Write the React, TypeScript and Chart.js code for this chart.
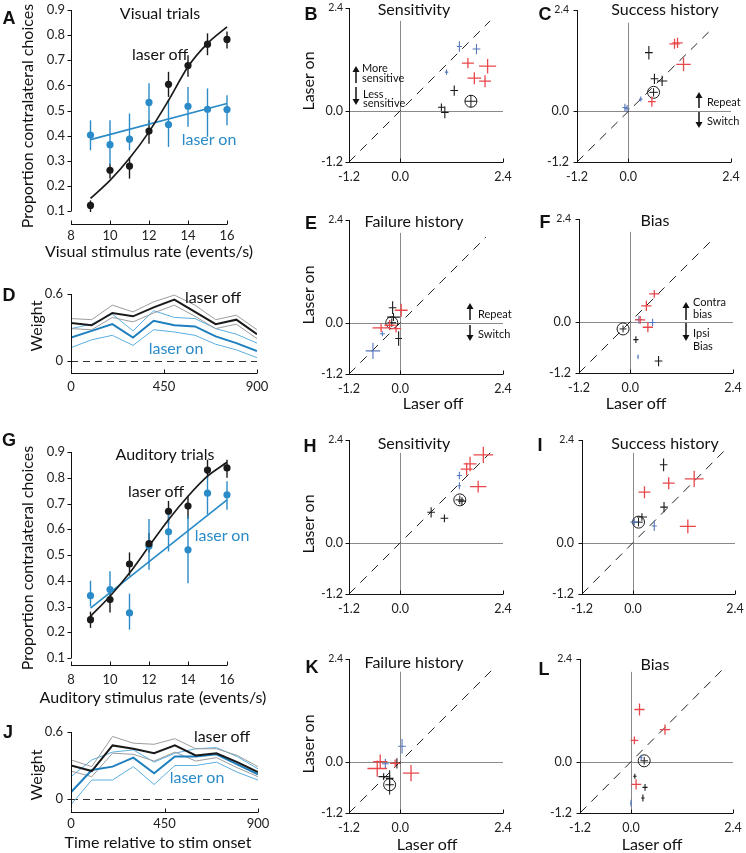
import React, { useEffect, useRef } from "react";
import { Chart, registerables } from "chart.js";
Chart.register(...registerables);

const FONT = "Lato, 'Noto Sans', sans-serif";
const INK = "#1a1a1a";
const BLUE_A = "#2a8bc8";
const BLUE_T = "#1e7fbe";
const BLUE_L = "#5aaee0";
const GRAY_L = "#9c9c9c";
const RED = "#e8484c";
const XBLUE = "#5577bb";
const REFGRAY = "#8a8a8a";

// ---------- Panel A: visual trials ----------
const visRates = [9, 10, 11, 12, 13, 14, 15, 16];
const visOff = [0.122, 0.262, 0.279, 0.418, 0.604, 0.679, 0.764, 0.783];
const visOffLo = [0.096, 0.229, 0.229, 0.368, 0.554, 0.634, 0.72, 0.747];
const visOffHi = [0.142, 0.289, 0.315, 0.461, 0.654, 0.72, 0.807, 0.814];
const visOn = [0.402, 0.364, 0.386, 0.532, 0.444, 0.517, 0.505, 0.504];
const visOnLo = [0.342, 0.282, 0.342, 0.441, 0.355, 0.435, 0.395, 0.441];
const visOnHi = [0.461, 0.461, 0.488, 0.608, 0.541, 0.594, 0.588, 0.561];
const visOffFit = [0.15, 0.222, 0.31, 0.415, 0.54, 0.674, 0.767, 0.833];
const visOnFitX = [9, 16];
const visOnFitY = [0.384, 0.528];

// ---------- Panel G: auditory trials ----------
const audRates = [9, 10, 11, 12, 13, 14, 15, 16];
const audOff = [0.249, 0.327, 0.465, 0.544, 0.67, 0.69, 0.83, 0.838];
const audOffLo = [0.217, 0.277, 0.42, 0.51, 0.62, 0.64, 0.80, 0.80];
const audOffHi = [0.28, 0.366, 0.51, 0.585, 0.71, 0.73, 0.87, 0.87];
const audOn = [0.342, 0.366, 0.275, 0.535, 0.59, 0.52, 0.74, 0.734];
const audOnLo = [0.30, 0.314, 0.21, 0.443, 0.514, 0.39, 0.657, 0.676];
const audOnHi = [0.40, 0.437, 0.35, 0.64, 0.676, 0.65, 0.806, 0.786];
const audOffFit = [0.262, 0.34, 0.43, 0.534, 0.637, 0.728, 0.806, 0.86];
const audOnFitX = [9, 16];
const audOnFitY = [0.294, 0.714];

// ---------- Panels D, J: weights over time ----------
const timeBins = [0, 100, 200, 300, 400, 500, 600, 700, 800, 900];
const visWOff = [0.34, 0.32, 0.43, 0.40, 0.48, 0.55, 0.44, 0.33, 0.37, 0.24];
const visWOffHi = [0.38, 0.37, 0.50, 0.44, 0.53, 0.59, 0.50, 0.37, 0.41, 0.28];
const visWOffLo = [0.29, 0.28, 0.39, 0.35, 0.43, 0.50, 0.40, 0.29, 0.33, 0.20];
const visWOn = [0.21, 0.27, 0.33, 0.21, 0.36, 0.32, 0.31, 0.22, 0.16, 0.09];
const visWOnHi = [0.29, 0.33, 0.42, 0.27, 0.45, 0.39, 0.38, 0.29, 0.24, 0.16];
const visWOnLo = [0.12, 0.19, 0.23, 0.14, 0.28, 0.26, 0.23, 0.15, 0.10, 0.03];

const audWOff = [0.30, 0.25, 0.48, 0.45, 0.41, 0.48, 0.39, 0.41, 0.33, 0.24];
const audWOffHi = [0.35, 0.29, 0.56, 0.50, 0.49, 0.54, 0.45, 0.45, 0.39, 0.29];
const audWOffLo = [0.25, 0.20, 0.41, 0.40, 0.34, 0.42, 0.34, 0.37, 0.28, 0.20];
const audWOn = [0.06, 0.26, 0.29, 0.37, 0.23, 0.38, 0.38, 0.40, 0.31, 0.22];
const audWOnHi = [0.20, 0.35, 0.42, 0.44, 0.33, 0.41, 0.45, 0.46, 0.38, 0.27];
const audWOnLo = [-0.05, 0.17, 0.17, 0.29, 0.13, 0.30, 0.30, 0.33, 0.24, 0.17];

// ---------- Scatter panels: [laserOff, laserOn, xErr, yErr] ----------
const sensVisRed = [[1.58, 1.11, 0.14, 0.12], [2.04, 1.04, 0.2, 0.17], [1.73, 0.76, 0.16, 0.14], [1.98, 0.69, 0.14, 0.14]];
const sensVisBlue = [[1.38, 1.5, 0.06, 0.12], [1.78, 1.44, 0.09, 0.12], [1.08, 0.9, 0.04, 0.06]];
const sensVisBlack = [[1.26, 0.47, 0.09, 0.12], [0.96, 0.08, 0.08, 0.09], [1.04, -0.04, 0.09, 0.14]];
const sensVisMean = [[1.65, 0.22, 0.14, 0.14]];

const succVisRed = [[1.08, 1.6, 0.12, 0.12], [1.15, 1.62, 0.12, 0.12], [1.29, 1.11, 0.17, 0.16], [0.55, 0.23, 0.09, 0.12]];
const succVisBlue = [[-0.08, 0.09, 0.06, 0.09], [-0.03, 0.06, 0.06, 0.09], [0.29, 0.29, 0.04, 0.06]];
const succVisBlack = [[0.48, 1.39, 0.09, 0.16], [0.61, 0.77, 0.09, 0.12], [0.79, 0.72, 0.12, 0.12]];
const succVisMean = [[0.59, 0.45, 0.1, 0.1]];

const failVisRed = [[-0.45, -0.12, 0.2, 0.1], [0.02, 0.29, 0.15, 0.15], [-0.1, -0.14, 0.12, 0.09], [-0.25, -0.06, 0.12, 0.12]];
const failVisBlue = [[-0.64, -0.66, 0.17, 0.19], [-0.42, -0.26, 0.06, 0.06]];
const failVisBlack = [[-0.18, 0.35, 0.09, 0.15], [-0.16, 0.13, 0.15, 0.09], [-0.04, -0.37, 0.08, 0.17]];
const failVisMean = [[-0.2, 0.0, 0.1, 0.1]];

const biasVisRed = [[0.56, 0.65, 0.12, 0.09], [0.375, 0.37, 0.12, 0.12], [0.23, 0.04, 0.12, 0.09], [0.41, -0.13, 0.12, 0.12]];
const biasVisBlue = [[0.2, 0.05, 0.08, 0.09], [0.52, -0.02, 0.09, 0.09], [0.18, -0.82, 0.02, 0.05]];
const biasVisBlack = [[0.13, -0.42, 0.06, 0.08], [0.66, -0.92, 0.09, 0.12]];
const biasVisMean = [[-0.17, -0.17, 0.08, 0.08]];

const sensAudRed = [[1.94, 2.05, 0.23, 0.19], [1.63, 1.84, 0.15, 0.17], [1.55, 1.72, 0.14, 0.15], [1.82, 1.31, 0.19, 0.14]];
const sensAudBlue = [[1.38, 1.57, 0.06, 0.09], [1.38, 1.33, 0.04, 0.08]];
const sensAudBlack = [[1.44, 0.97, 0.09, 0.09], [0.72, 0.71, 0.09, 0.12], [1.03, 0.57, 0.09, 0.09]];
const sensAudMean = [[1.39, 1.0, 0.1, 0.1]];

const succAudRed = [[0.27, 1.18, 0.14, 0.14], [0.84, 1.39, 0.14, 0.14], [1.44, 1.49, 0.22, 0.19], [1.29, 0.38, 0.19, 0.16]];
const succAudBlue = [[0.5, 0.39, 0.06, 0.12], [0.03, 0.48, 0.09, 0.08]];
const succAudBlack = [[0.72, 1.82, 0.09, 0.15], [0.73, 0.83, 0.09, 0.12], [0.21, 0.6, 0.12, 0.09]];
const succAudMean = [[0.13, 0.48, 0.1, 0.1]];

const failAudRed = [[-0.54, -0.16, 0.23, 0.19], [-0.47, 0.0, 0.17, 0.17], [0.25, -0.27, 0.19, 0.19], [-0.12, -0.04, 0.12, 0.09]];
const failAudBlue = [[0.04, 0.36, 0.09, 0.17], [-0.35, -0.05, 0.08, 0.12]];
const failAudBlack = [[-0.08, -0.04, 0.09, 0.12], [-0.39, -0.35, 0.12, 0.08], [-0.25, -0.39, 0.09, 0.19]];
const failAudMean = [[-0.25, -0.54, 0.1, 0.23]];

const biasAudRed = [[0.2, 1.22, 0.12, 0.14], [0.8, 0.75, 0.12, 0.12], [0.08, 0.5, 0.09, 0.09], [0.12, -0.53, 0.12, 0.12]];
const biasAudBlue = [[0.0, -0.97, 0.02, 0.08], [0.24, 0.1, 0.03, 0.06]];
const biasAudBlack = [[0.09, -0.34, 0.04, 0.06], [0.33, -0.6, 0.06, 0.08], [0.28, -0.85, 0.04, 0.08]];
const biasAudMean = [[0.31, 0.02, 0.09, 0.09]];

const scatterTicks = [-1.2, 0, 2.4];
const scatterTickLabels = ["-1.2", "0.0", "2.4"];
const psychYTicks = [0.1, 0.2, 0.3, 0.4, 0.5, 0.6, 0.7, 0.8, 0.9];
const psychYLabels = ["0.1", "0.2", "0.3", "0.4", "0.5", "0.6", "0.7", "0.8", "0.9"];
const psychXTicks = [8, 10, 12, 14, 16];
const psychXLabels = ["8", "10", "12", "14", "16"];
const weightYTicks = [0, 0.6];
const weightYLabels = ["0", "0.6"];
const weightXTicks = [0, 450, 900];
const weightXLabels = ["0", "450", "900"];

// ---------- layout helpers ----------
const ML = 44, MR = 16, MT = 14, MB = 28, YW = 40, XH = 26;
type Area = { L: number; T: number; R: number; B: number };

const pts = (xs: number[], ys: number[]) => xs.map((x, i) => ({ x, y: ys[i] }));

function scale(min: number, max: number, ticks: number[], horiz: boolean) {
  return {
    type: "linear",
    min,
    max,
    afterFit: (s: any) => {
      if (horiz) s.height = XH;
      else s.width = YW;
    },
    afterBuildTicks: (s: any) => {
      s.ticks = ticks.map((v) => ({ value: v }));
    },
    grid: { display: false, drawTicks: false },
    border: { display: false },
    ticks: { display: false, autoSkip: false, maxRotation: 0 },
  };
}

// axis lines, tick marks and tick labels, positioned from the chart's own scales
const framePlugin = {
  id: "frame",
  afterDatasetsDraw(chart: any, _a: any, o: any) {
    const { ctx, chartArea: a, scales } = chart;
    const x = scales.x, y = scales.y;
    ctx.save();
    ctx.strokeStyle = "#111";
    ctx.lineWidth = 1;
    const lx = Math.round(a.left) + 0.5;
    const by = Math.round(a.bottom) + 0.5;
    ctx.beginPath();
    ctx.moveTo(lx, y.getPixelForValue(o.yFrom));
    ctx.lineTo(lx, y.getPixelForValue(o.yTo));
    ctx.moveTo(x.getPixelForValue(o.xFrom), by);
    ctx.lineTo(x.getPixelForValue(o.xTo), by);
    o.yTicks.forEach((v: number) => {
      const py = Math.round(y.getPixelForValue(v)) + 0.5;
      ctx.moveTo(lx, py);
      ctx.lineTo(lx - 4, py);
    });
    o.xTicks.forEach((v: number) => {
      const px = Math.round(x.getPixelForValue(v)) + 0.5;
      ctx.moveTo(px, by);
      ctx.lineTo(px, by - 4);
    });
    ctx.stroke();
    ctx.fillStyle = "#222";
    ctx.textBaseline = "middle";
    ctx.textAlign = "right";
    o.yTicks.forEach((v: number, i: number) => {
      const size = o.topSmall && i === o.yTicks.length - 1 ? o.topSmall : o.fs;
      ctx.font = `${size}px ${FONT}`;
      ctx.fillText(o.yLab[i], a.left - o.yGap, y.getPixelForValue(v));
    });
    ctx.textAlign = "center";
    ctx.font = `${o.fs}px ${FONT}`;
    o.xTicks.forEach((v: number, i: number) => {
      ctx.fillText(o.xLab[i], x.getPixelForValue(v), a.bottom + o.xOff);
    });
    ctx.restore();
  },
};

const refPlugin = {
  id: "refs",
  beforeDatasetsDraw(chart: any, _a: any, o: any) {
    const { ctx, scales } = chart;
    const x = scales.x, y = scales.y;
    ctx.save();
    if (o.zeroDash) {
      ctx.strokeStyle = "#333";
      ctx.lineWidth = 1;
      ctx.setLineDash([7, 5]);
      const py = Math.round(y.getPixelForValue(0)) + 0.5;
      ctx.beginPath();
      ctx.moveTo(x.getPixelForValue(o.zeroDash[0]), py);
      ctx.lineTo(x.getPixelForValue(o.zeroDash[1]), py);
      ctx.stroke();
    }
    if (o.quad) {
      ctx.strokeStyle = REFGRAY;
      ctx.lineWidth = 1;
      const py = Math.round(y.getPixelForValue(0)) + 0.5;
      const px = Math.round(x.getPixelForValue(0)) + 0.5;
      ctx.beginPath();
      ctx.moveTo(x.getPixelForValue(-1.2), py);
      ctx.lineTo(x.getPixelForValue(o.hEnd), py);
      ctx.moveTo(px, y.getPixelForValue(-1.2));
      ctx.lineTo(px, y.getPixelForValue(o.vEnd));
      ctx.stroke();
      ctx.strokeStyle = "#222";
      ctx.setLineDash([9, 7]);
      ctx.beginPath();
      ctx.moveTo(x.getPixelForValue(-1.2), y.getPixelForValue(-1.2));
      ctx.lineTo(x.getPixelForValue(o.dEnd), y.getPixelForValue(o.dEnd));
      ctx.stroke();
    }
    ctx.restore();
  },
};

const errPlugin = {
  id: "errs",
  beforeDatasetsDraw(chart: any) {
    const { ctx, scales } = chart;
    const x = scales.x, y = scales.y;
    chart.data.datasets.forEach((ds: any) => {
      if (ds.vLo) {
        ctx.save();
        ctx.strokeStyle = ds.errColor;
        ctx.lineWidth = 1.4;
        ds.data.forEach((p: any, i: number) => {
          const px = x.getPixelForValue(p.x);
          ctx.beginPath();
          ctx.moveTo(px, y.getPixelForValue(ds.vLo[i]));
          ctx.lineTo(px, y.getPixelForValue(ds.vHi[i]));
          ctx.stroke();
        });
        ctx.restore();
      }
    });
  },
  afterDatasetsDraw(chart: any) {
    const { ctx, scales } = chart;
    const x = scales.x, y = scales.y;
    chart.data.datasets.forEach((ds: any) => {
      if (ds.xe) {
        ctx.save();
        ctx.strokeStyle = ds.crossColor;
        ctx.lineWidth = ds.crossWidth || 1;
        ds.data.forEach((p: any, i: number) => {
          const px = x.getPixelForValue(p.x);
          const py = y.getPixelForValue(p.y);
          ctx.beginPath();
          ctx.moveTo(x.getPixelForValue(p.x - ds.xe[i]), py);
          ctx.lineTo(x.getPixelForValue(p.x + ds.xe[i]), py);
          ctx.moveTo(px, y.getPixelForValue(p.y - ds.ye[i]));
          ctx.lineTo(px, y.getPixelForValue(p.y + ds.ye[i]));
          ctx.stroke();
        });
        ctx.restore();
      }
    });
  },
};

function baseOptions(scales: any, plugins: any) {
  return {
    animation: false,
    responsive: false,
    events: [],
    layout: { padding: { left: ML - YW, right: MR, top: MT, bottom: MB - XH } },
    scales,
    plugins: { legend: { display: false }, tooltip: { enabled: false }, ...plugins },
  };
}

function ChartBox({ area, make }: { area: Area; make: () => any }) {
  const ref = useRef<HTMLCanvasElement>(null);
  const w = area.R - area.L + ML + MR;
  const h = area.B - area.T + MT + MB;
  useEffect(() => {
    const c = new Chart(ref.current as HTMLCanvasElement, make());
    return () => c.destroy();
  }, []);
  return (
    <canvas
      ref={ref}
      width={w}
      height={h}
      style={{ position: "absolute", left: area.L - ML, top: area.T - MT, width: w, height: h, display: "block" }}
    />
  );
}

function psychConfig(yMin: number, xOff: number, rates: number[], off: number[], offLo: number[], offHi: number[], on: number[], onLo: number[], onHi: number[], offFit: number[], onFitX: number[], onFitY: number[]) {
  return {
    type: "scatter",
    data: {
      datasets: [
        { data: pts(rates, off), pointRadius: 3.6, backgroundColor: INK, borderWidth: 0, vLo: offLo, vHi: offHi, errColor: INK, clip: false },
        { data: pts(rates, on), pointRadius: 3.6, backgroundColor: BLUE_A, borderWidth: 0, vLo: onLo, vHi: onHi, errColor: BLUE_A, clip: false },
        { data: pts(rates, offFit), showLine: true, borderColor: INK, borderWidth: 1.7, pointRadius: 0, cubicInterpolationMode: "monotone", clip: false },
        { data: pts(onFitX, onFitY), showLine: true, borderColor: BLUE_A, borderWidth: 1.7, pointRadius: 0, clip: false },
      ],
    },
    options: baseOptions(
      { x: scale(8, 16, psychXTicks, true), y: scale(yMin, 0.9, psychYTicks, false) },
      {
        frame: {
          yFrom: 0.1, yTo: 0.9, xFrom: 8, xTo: 16,
          yTicks: psychYTicks, yLab: psychYLabels, xTicks: psychXTicks, xLab: psychXLabels,
          fs: 13, yGap: 6, xOff,
        },
      }
    ),
    plugins: [errPlugin, framePlugin],
  };
}

function weightConfig(yMin: number, xOff: number, off: number[], offHi: number[], offLo: number[], on: number[], onHi: number[], onLo: number[]) {
  const thin = (ys: number[], c: string) => ({ data: pts(timeBins, ys), showLine: true, borderColor: c, borderWidth: 1, pointRadius: 0 });
  return {
    type: "scatter",
    data: {
      datasets: [
        { data: pts(timeBins, off), showLine: true, borderColor: INK, borderWidth: 2, pointRadius: 0 },
        { data: pts(timeBins, on), showLine: true, borderColor: BLUE_T, borderWidth: 2, pointRadius: 0 },
        thin(offHi, GRAY_L),
        thin(offLo, GRAY_L),
        thin(onHi, BLUE_L),
        thin(onLo, BLUE_L),
      ],
    },
    options: baseOptions(
      { x: scale(0, 900, weightXTicks, true), y: scale(yMin, 0.6, weightYTicks, false) },
      {
        frame: {
          yFrom: yMin + 0.03, yTo: 0.6, xFrom: 0, xTo: 900,
          yTicks: weightYTicks, yLab: weightYLabels, xTicks: weightXTicks, xLab: weightXLabels,
          fs: 13, yGap: 8, xOff,
        },
        refs: { zeroDash: [0, 900] },
      }
    ),
    plugins: [refPlugin, framePlugin],
  };
}

function crossDs(arr: number[][], color: string, width: number) {
  return { data: arr.map((a) => ({ x: a[0], y: a[1] })), xe: arr.map((a) => a[2]), ye: arr.map((a) => a[3]), crossColor: color, crossWidth: width, pointRadius: 0 };
}

function scatterConfig(red: number[][], blue: number[][], black: number[][], mean: number[][], dEnd: number, yGap: number) {
  return {
    type: "scatter",
    data: {
      datasets: [
        { ...crossDs(mean, INK, 1), pointRadius: 6, pointStyle: "circle", borderColor: INK, borderWidth: 1, backgroundColor: "rgba(0,0,0,0)" },
        crossDs(black, INK, 1.1),
        crossDs(blue, XBLUE, 1.1),
        crossDs(red, RED, 1.3),
      ],
    },
    options: baseOptions(
      { x: scale(-1.2, 2.4, scatterTicks, true), y: scale(-1.2, 2.4, scatterTicks, false) },
      {
        frame: {
          yFrom: -1.2, yTo: 2.4, xFrom: -1.2, xTo: 2.4,
          yTicks: scatterTicks, yLab: scatterTickLabels, xTicks: scatterTicks, xLab: scatterTickLabels,
          fs: 12.5, topSmall: 10.5, yGap, xOff: 15,
        },
        refs: { quad: true, hEnd: 2.4, vEnd: 2.1, dEnd },
      }
    ),
    plugins: [refPlugin, errPlugin, framePlugin],
  };
}

// chart areas (page pixels)
const aA: Area = { L: 71, T: 10, R: 227, B: 224 };
const aD: Area = { L: 71, T: 294, R: 257, B: 373 };
const aG: Area = { L: 71, T: 452, R: 227, B: 665 };
const aJ: Area = { L: 71, T: 732, R: 258, B: 812 };
const aB: Area = { L: 349, T: 8, R: 503, B: 162 };
const aC: Area = { L: 577, T: 10, R: 731, B: 162 };
const aE: Area = { L: 349, T: 220, R: 503, B: 374 };
const aF: Area = { L: 579, T: 219, R: 733, B: 373 };
const aH: Area = { L: 349, T: 440, R: 503, B: 594 };
const aI: Area = { L: 582, T: 440, R: 735, B: 594 };
const aK: Area = { L: 349, T: 659, R: 503, B: 813 };
const aL: Area = { L: 580, T: 659, R: 733, B: 813 };

type TP = { x: number; y: number; s?: number; c?: string; b?: boolean; rot?: boolean; left?: boolean; children: React.ReactNode };
function Tx({ x, y, s = 16, c = "#111", b = false, rot = false, left = false, children }: TP) {
  const tr = rot ? "translate(-50%,-50%) rotate(-90deg)" : left ? "translate(0,-50%)" : "translate(-50%,-50%)";
  return (
    <div
      style={{
        position: "absolute",
        left: x,
        top: y,
        transform: tr,
        whiteSpace: "nowrap",
        lineHeight: 1,
        fontFamily: b ? "'Liberation Sans', Arial, sans-serif" : FONT,
        fontWeight: b ? 700 : 400,
        fontSize: s,
        color: c,
        pointerEvents: "none",
      }}
    >
      {children}
    </div>
  );
}

function Arrow({ x, tail, tip }: { x: number; tail: number; tip: number }) {
  const dir = tip < tail ? 1 : -1;
  const base = tip + dir * 6;
  return (
    <g>
      <line x1={x} y1={tail} x2={x} y2={base} stroke="#111" strokeWidth={1.5} />
      <polygon points={`${x},${tip} ${x - 3.5},${base} ${x + 3.5},${base}`} fill="#111" />
    </g>
  );
}

export default function App() {
  return (
    <div style={{ position: "absolute", left: 0, top: 0, width: 746, height: 853, background: "#fff", overflow: "hidden" }}>
      <ChartBox area={aA} make={() => psychConfig(0.1 - 13 / 251.25, 12, visRates, visOff, visOffLo, visOffHi, visOn, visOnLo, visOnHi, visOffFit, visOnFitX, visOnFitY)} />
      <ChartBox area={aG} make={() => psychConfig(0.1 - 7 / 257.5, 15, audRates, audOff, audOffLo, audOffHi, audOn, audOnLo, audOnHi, audOffFit, audOnFitX, audOnFitY)} />
      <ChartBox area={aD} make={() => weightConfig(-12 / 111.7, 14, visWOff, visWOffHi, visWOffLo, visWOn, visWOnHi, visWOnLo)} />
      <ChartBox area={aJ} make={() => weightConfig(-13 / 111.7, 12, audWOff, audWOffHi, audWOffLo, audWOn, audWOnHi, audWOnLo)} />
      <ChartBox area={aB} make={() => scatterConfig(sensVisRed, sensVisBlue, sensVisBlack, sensVisMean, 2.1, 6)} />
      <ChartBox area={aC} make={() => scatterConfig(succVisRed, succVisBlue, succVisBlack, succVisMean, 1.9, 8)} />
      <ChartBox area={aE} make={() => scatterConfig(failVisRed, failVisBlue, failVisBlack, failVisMean, 2.0, 6)} />
      <ChartBox area={aF} make={() => scatterConfig(biasVisRed, biasVisBlue, biasVisBlack, biasVisMean, 1.88, 8)} />
      <ChartBox area={aH} make={() => scatterConfig(sensAudRed, sensAudBlue, sensAudBlack, sensAudMean, 2.1, 6)} />
      <ChartBox area={aI} make={() => scatterConfig(succAudRed, succAudBlue, succAudBlack, succAudMean, 2.15, 8)} />
      <ChartBox area={aK} make={() => scatterConfig(failAudRed, failAudBlue, failAudBlack, failAudMean, 2.13, 6)} />
      <ChartBox area={aL} make={() => scatterConfig(biasAudRed, biasAudBlue, biasAudBlack, biasAudMean, 2.15, 8)} />

      <svg width={746} height={853} style={{ position: "absolute", left: 0, top: 0, pointerEvents: "none" }}>
        <Arrow x={356} tail={83} tip={66} />
        <Arrow x={356} tail={87} tip={105} />
        <Arrow x={699} tail={108} tip={92} />
        <Arrow x={699} tail={112} tip={128} />
        <Arrow x={470} tail={320} tip={303} />
        <Arrow x={470} tail={325} tip={341} />
        <Arrow x={686} tail={320} tip={302} />
        <Arrow x={686} tail={323} tip={341} />
      </svg>

      {/* panel letters */}
      <Tx x={9} y={18} s={18} b>A</Tx>
      <Tx x={9} y={295} s={18} b>D</Tx>
      <Tx x={9} y={440} s={18} b>G</Tx>
      <Tx x={8} y={732} s={18} b>J</Tx>
      <Tx x={311} y={14} s={18} b>B</Tx>
      <Tx x={545} y={14} s={18} b>C</Tx>
      <Tx x={311} y={223} s={18} b>E</Tx>
      <Tx x={545} y={222} s={18} b>F</Tx>
      <Tx x={310} y={446} s={18} b>H</Tx>
      <Tx x={540} y={445} s={18} b>I</Tx>
      <Tx x={312} y={667} s={18} b>K</Tx>
      <Tx x={544} y={669} s={18} b>L</Tx>

      {/* titles */}
      <Tx x={160} y={13}>Visual trials</Tx>
      <Tx x={165} y={454}>Auditory trials</Tx>
      <Tx x={414} y={9}>Sensitivity</Tx>
      <Tx x={665} y={9}>Success history</Tx>
      <Tx x={414} y={221}>Failure history</Tx>
      <Tx x={655} y={220}>Bias</Tx>
      <Tx x={414} y={443}>Sensitivity</Tx>
      <Tx x={665} y={443}>Success history</Tx>
      <Tx x={414} y={662}>Failure history</Tx>
      <Tx x={655} y={664}>Bias</Tx>

      {/* axis titles */}
      <Tx x={27} y={116} rot>Proportion contralateral choices</Tx>
      <Tx x={149} y={251}>Visual stimulus rate (events/s)</Tx>
      <Tx x={36} y={326} rot>Weight</Tx>
      <Tx x={27} y={558} rot>Proportion contralateral choices</Tx>
      <Tx x={153} y={697}>Auditory stimulus rate (events/s)</Tx>
      <Tx x={36} y={775} rot>Weight</Tx>
      <Tx x={158} y={842}>Time relative to stim onset</Tx>
      <Tx x={308} y={81} rot>Laser on</Tx>
      <Tx x={308} y={295} rot>Laser on</Tx>
      <Tx x={308} y={524} rot>Laser on</Tx>
      <Tx x={308} y={744} rot>Laser on</Tx>
      <Tx x={433} y={403}>Laser off</Tx>
      <Tx x={636} y={403}>Laser off</Tx>
      <Tx x={427} y={844}>Laser off</Tx>
      <Tx x={652} y={844}>Laser off</Tx>

      {/* series labels */}
      <Tx x={160} y={54}>laser off</Tx>
      <Tx x={209} y={139} c={BLUE_A}>laser on</Tx>
      <Tx x={213} y={297}>laser off</Tx>
      <Tx x={176} y={348} c={BLUE_A}>laser on</Tx>
      <Tx x={156} y={491}>laser off</Tx>
      <Tx x={222} y={535} c={BLUE_A}>laser on</Tx>
      <Tx x={222} y={736}>laser off</Tx>
      <Tx x={197} y={777} c={BLUE_A}>laser on</Tx>

      {/* annotations */}
      <Tx x={362} y={67} s={11} left>More</Tx>
      <Tx x={362} y={76.5} s={11} left>sensitive</Tx>
      <Tx x={363} y={93} s={11} left>Less</Tx>
      <Tx x={363} y={101.5} s={11} left>sensitive</Tx>
      <Tx x={707} y={101} s={11} left>Repeat</Tx>
      <Tx x={707} y={120} s={11} left>Switch</Tx>
      <Tx x={478} y={313} s={11} left>Repeat</Tx>
      <Tx x={478} y={333} s={11} left>Switch</Tx>
      <Tx x={693} y={301} s={11} left>Contra</Tx>
      <Tx x={693} y={313} s={11} left>bias</Tx>
      <Tx x={693} y={332} s={11} left>Ipsi</Tx>
      <Tx x={693} y={345} s={11} left>Bias</Tx>
    </div>
  );
}
